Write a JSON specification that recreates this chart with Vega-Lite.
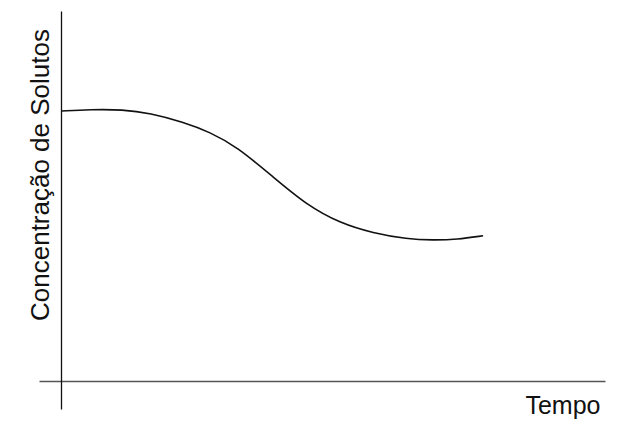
{
  "$schema": "https://vega.github.io/schema/vega-lite/v6.json",
  "description": "Concentração de solutos ao longo do tempo",
  "width": 566,
  "height": 398,
  "autosize": {"type": "none"},
  "padding": {"left": 39, "top": 11, "right": 28, "bottom": 20},
  "background": "white",
  "data": {
    "values": [
      {"tempo": 0.2, "concentracao": 73.0},
      {"tempo": 5.4, "concentracao": 73.4},
      {"tempo": 11.4, "concentracao": 73.4},
      {"tempo": 16.4, "concentracao": 72.4},
      {"tempo": 22.5, "concentracao": 70.0},
      {"tempo": 27.4, "concentracao": 67.3},
      {"tempo": 32.4, "concentracao": 63.3},
      {"tempo": 39.0, "concentracao": 55.2},
      {"tempo": 45.2, "concentracao": 47.6},
      {"tempo": 51.3, "concentracao": 42.7},
      {"tempo": 57.4, "concentracao": 40.0},
      {"tempo": 63.6, "concentracao": 38.4},
      {"tempo": 68.4, "concentracao": 38.1},
      {"tempo": 72.8, "concentracao": 38.3},
      {"tempo": 77.6, "concentracao": 39.3}
    ]
  },
  "mark": {"type": "line", "interpolate": "basis", "color": "#111", "strokeWidth": 1.6},
  "encoding": {
    "x": {
      "field": "tempo",
      "type": "quantitative",
      "scale": {"domain": [-4, 100], "nice": false, "zero": false},
      "axis": {
        "title": "Tempo",
        "offset": -28,
        "ticks": false,
        "labels": false,
        "grid": false,
        "domainColor": "#555",
        "domainWidth": 1.5,
        "titleFont": "Liberation Sans",
        "titleFontSize": 25,
        "titleFontWeight": "normal",
        "titleColor": "#111",
        "titleX": 561,
        "titleY": 32,
        "titleAlign": "right",
        "titleBaseline": "alphabetic"
      }
    },
    "y": {
      "field": "concentracao",
      "type": "quantitative",
      "scale": {"domain": [-7.5, 100], "nice": false, "zero": false},
      "axis": {
        "title": "Concentração de Solutos",
        "offset": -22,
        "ticks": false,
        "labels": false,
        "grid": false,
        "domainColor": "#111",
        "domainWidth": 1.3,
        "titleFont": "Liberation Sans",
        "titleFontSize": 26,
        "titleFontWeight": "normal",
        "titleColor": "#111",
        "titleAngle": 270,
        "titleX": -13,
        "titleY": 163.5,
        "titleAlign": "center",
        "titleBaseline": "alphabetic"
      }
    }
  },
  "config": {"view": {"stroke": null}}
}
